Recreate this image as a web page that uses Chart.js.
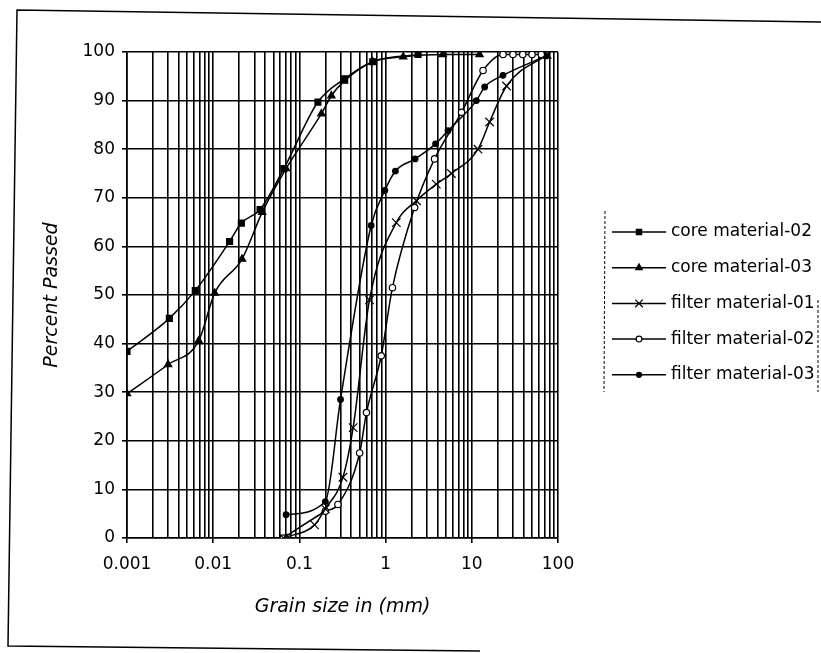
<!DOCTYPE html>
<html>
<head>
<meta charset="utf-8">
<script src="https://cdn.jsdelivr.net/npm/chart.js@4.4.1/dist/chart.umd.min.js"></script>
<style>
  html, body { margin: 0; padding: 0; background: #fff; }
  #wrap { position: relative; width: 821px; height: 653px; }
</style>
</head>
<body>
<div id="wrap"><canvas id="grading"></canvas></div>
<script>
// --- data (grain size in mm, % passed) ---
const seriesNames = ["core material-02", "core material-03", "filter material-01", "filter material-02", "filter material-03"];

const core02Size = [0.001, 0.0031, 0.0062, 0.0155, 0.0212, 0.035, 0.066, 0.164, 0.335, 0.71, 2.38];
const core02Pass = [38.4, 45.2, 50.9, 61, 64.8, 67.6, 76, 89.7, 94.5, 98, 99.5];

const core03Size = [0.001, 0.003, 0.0068, 0.0104, 0.0216, 0.037, 0.07, 0.18, 0.235, 0.33, 0.71, 1.6, 4.6, 12.3];
const core03Pass = [29.7, 35.7, 40.6, 50.4, 57.4, 67, 76, 87.3, 91, 94, 98, 99, 99.5, 99.5];

const filter01Size = [0.065, 0.15, 0.2, 0.32, 0.42, 0.65, 1.33, 2.28, 3.87, 5.8, 11.8, 16.1, 25.3, 75];
const filter01Pass = [0, 2.7, 6, 12.5, 22.7, 49, 64.9, 69.4, 72.8, 75, 80, 85.6, 93, 99.5];

const filter02Size = [0.065, 0.2, 0.28, 0.5, 0.6, 0.89, 1.2, 2.17, 3.7, 7.6, 13.5, 23, 30, 39, 50, 64];
const filter02Pass = [0, 5.5, 6.9, 17.5, 25.8, 37.5, 51.5, 68, 78, 87.6, 96.2, 99.5, 99.5, 99.5, 99.5, 99.5];

const filter03Size = [0.07, 0.2, 0.3, 0.68, 0.98, 1.3, 2.2, 3.8, 5.3, 11.3, 14.1, 23, 73];
const filter03Pass = [4.8, 7.5, 28.5, 64.3, 71.5, 75.5, 78, 81.1, 83.8, 90, 92.8, 95.2, 99.2];

// axis ticks
const xTickValues = [0.001, 0.01, 0.1, 1, 10, 100];
const xTickLabels = ["0.001", "0.01", "0.1", "1", "10", "100"];
const yTickValues = [0, 10, 20, 30, 40, 50, 60, 70, 80, 90, 100];

const FONT = "'DejaVu Sans', 'Liberation Sans', Arial, sans-serif";

function pairs(xs, ys){
  return xs.map((x, i) => ({ x, y: ys[i] }));
}

// log grid: 1..9 in every decade, plus the last decade line
function logGrid(){
  const out = [];
  for (let d = 0; d < xTickValues.length - 1; d++){
    for (let m = 1; m <= 9; m++){
      out.push(Number((xTickValues[d] * m).toPrecision(6)));
    }
  }
  out.push(xTickValues[xTickValues.length - 1]);
  return out;
}

function majorIndex(v){
  return xTickValues.findIndex(t => Math.abs(Math.log10(t) - Math.log10(v)) < 1e-6);
}

function series(label, xs, ys, style, radius, fill){
  return {
    label,
    data: pairs(xs, ys),
    showLine: true,
    borderColor: "#000",
    borderWidth: 1.5,
    cubicInterpolationMode: "monotone",
    pointStyle: style,
    pointRadius: radius,
    pointBorderColor: "#000",
    pointBackgroundColor: fill,
    pointBorderWidth: 1.2,
  };
}

// frame of the scanned figure + legend at the right
const sideLegend = {
  id: "sideLegend",
  afterDraw(chart){
    const ctx = chart.ctx;
    ctx.save();
    ctx.strokeStyle = "#000";
    ctx.lineWidth = 1.5;
    ctx.beginPath();
    ctx.moveTo(821, 22); ctx.lineTo(17, 10); ctx.lineTo(8, 646); ctx.lineTo(480, 651);
    ctx.stroke();

    // dashed legend border
    ctx.lineWidth = 1;
    ctx.setLineDash([3, 2]);
    ctx.beginPath();
    ctx.moveTo(605, 211); ctx.lineTo(604, 392);
    ctx.moveTo(818, 300); ctx.lineTo(818, 392);
    ctx.stroke();
    ctx.setLineDash([]);

    chart.data.datasets.forEach((ds, i) => {
      const y = 232 + i * 35.7;
      ctx.strokeStyle = "#000";
      ctx.lineWidth = 1.5;
      ctx.beginPath();
      ctx.moveTo(612, y); ctx.lineTo(666, y);
      ctx.stroke();
      ctx.fillStyle = ds.pointBackgroundColor;
      ctx.lineWidth = 1.2;
      Chart.helpers.drawPoint(ctx, { pointStyle: ds.pointStyle, radius: ds.pointRadius * 0.9, borderWidth: 1.2, rotation: 0 }, 639, y);
      ctx.fillStyle = "#000";
      ctx.font = "17px " + FONT;
      ctx.textBaseline = "middle";
      ctx.textAlign = "left";
      ctx.fillText(ds.label, 671, y);
    });
    ctx.restore();
  }
};

new Chart(document.getElementById("grading"), {
  type: "scatter",
  data: {
    datasets: [
      series(seriesNames[0], core02Size, core02Pass, "rect", 4.2, "#000"),
      series(seriesNames[1], core03Size, core03Pass, "triangle", 4.2, "#000"),
      series(seriesNames[2], filter01Size, filter01Pass, "crossRot", 6, "#000"),
      series(seriesNames[3], filter02Size, filter02Pass, "circle", 3.2, "#fff"),
      series(seriesNames[4], filter03Size, filter03Pass, "circle", 2.8, "#000"),
    ]
  },
  options: {
    responsive: true,
    maintainAspectRatio: false,
    animation: false,
    layout: { padding: { left: 0, top: 52, right: 263, bottom: 0 } },
    plugins: {
      legend: { display: false },
      tooltip: { enabled: false }
    },
    scales: {
      x: {
        type: "logarithmic",
        position: "bottom",
        min: 0.001,
        max: 100,
        afterBuildTicks: s => { s.ticks = logGrid().map(v => ({ value: v })); },
        afterFit: s => { s.height = 115; },
        ticks: {
          autoSkip: false,
          maxRotation: 0,
          color: "#000",
          padding: 11,
          font: { family: FONT, size: 17 },
          callback: v => { const i = majorIndex(v); return i >= 0 ? xTickLabels[i] : ""; }
        },
        grid: {
          color: "#000",
          lineWidth: 1.6,
          tickLength: 5,
          tickColor: c => (c.tick && majorIndex(c.tick.value) >= 0) ? "#000" : "rgba(0,0,0,0)"
        },
        border: { color: "#000", width: 1.6 },
        title: {
          display: true,
          text: "Grain size in (mm)",
          color: "#000",
          font: { family: FONT, size: 19, style: "italic" },
          padding: { top: 0, bottom: 35 }
        }
      },
      y: {
        min: 0,
        max: 100,
        afterBuildTicks: s => { s.ticks = yTickValues.map(v => ({ value: v })); },
        afterFit: s => { s.width = 127; },
        ticks: {
          color: "#000",
          padding: 7,
          font: { family: FONT, size: 17 }
        },
        grid: { color: "#000", lineWidth: 1.6, tickLength: 5, tickColor: "#000" },
        border: { color: "#000", width: 1.6 },
        title: {
          display: true,
          text: "Percent Passed",
          color: "#000",
          font: { family: FONT, size: 19, style: "italic" },
          padding: { top: 41, bottom: 0 }
        }
      }
    }
  },
  plugins: [sideLegend]
});
</script>
</body>
</html>
